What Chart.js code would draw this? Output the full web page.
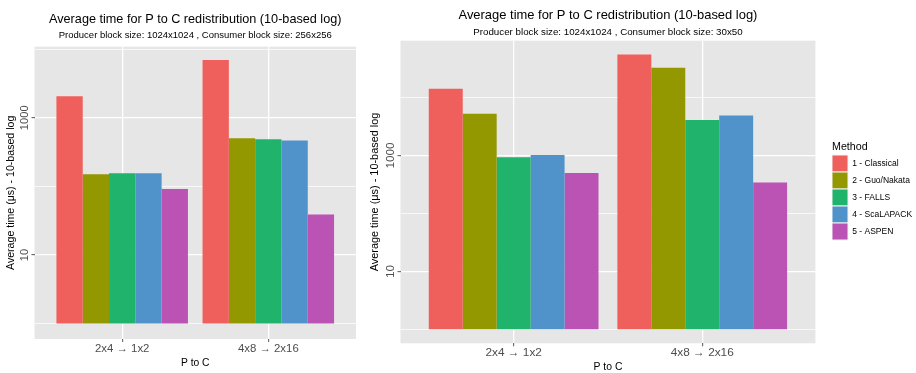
<!DOCTYPE html>
<html>
<head>
<meta charset="utf-8">
<script src="https://cdn.jsdelivr.net/npm/chart.js@4.4.1/dist/chart.umd.min.js"></script>
<style>
  html, body { margin: 0; padding: 0; background: #fff; }
  #wrap { position: relative; width: 916px; height: 373px; overflow: hidden; }
  canvas { position: absolute; top: 0; }
  #left { left: 0; }
  #right { left: 360px; }
</style>
</head>
<body>
<div id="wrap">
  <canvas id="left" width="360" height="373"></canvas>
  <canvas id="right" width="556" height="373"></canvas>
</div>
<script>
// P to C layouts on the x axis
const categories = ['2x4 \u2192 1x2', '4x8 \u2192 2x16'];
const methods = ['1 - Classical', '2 - Guo/Nakata', '3 - FALLS', '4 - ScaLAPACK', '5 - ASPEN'];
const methodColors = ['#EF5F5B', '#939700', '#1FB36B', '#5093CA', '#BB53B4'];

// Consumer block 256x256 (left panel), average time in µs per category
const classical256 = [2060, 6960];
const guoNakata256 = [151, 504];
const falls256 = [155, 488];
const scalapack256 = [155, 467];
const aspen256 = [92, 39];

// Consumer block 30x50 (right panel)
const classical30x50 = [14070, 55070];
const guoNakata30x50 = [5210, 32460];
const falls30x50 = [927, 4103];
const scalapack30x50 = [1020, 4867];
const aspen30x50 = [499, 343];

// log axis: grid at every decade, labels on two of them
const yGridValues = [1, 10, 100, 1000, 10000];
const yLabelValues = [10, 1000];

const chartTitle = 'Average time for P to C redistribution (10-based log)';
const yTitle = 'Average time (\u03bcs) - 10-based log';
const xTitle = 'P to C';

const fontFamily = "'Liberation Sans', Arial, Helvetica, sans-serif";
Chart.defaults.font.family = fontFamily;
Chart.defaults.color = '#000';

const legendFont = 8.5;
const legendBoxW = 16;

const panelBg = {
  id: 'panelBg',
  beforeDraw(chart) {
    const a = chart.chartArea;
    const ctx = chart.ctx;
    ctx.save();
    ctx.fillStyle = '#E6E6E6';
    ctx.fillRect(a.left, a.top, a.right - a.left, a.bottom - a.top);
    ctx.restore();
  }
};

function textWidth(text, size) {
  const c = document.createElement('canvas').getContext('2d');
  c.font = size + 'px ' + fontFamily;
  return c.measureText(text).width;
}

// ggplot style: 5% expansion of the log range, bars grow from 1
function logRange(values) {
  const top = Math.log10(Math.max.apply(null, values));
  const pad = top * 0.05;
  return { min: Math.pow(10, -pad), max: Math.pow(10, top + pad) };
}

function makePanel(canvasId, series, subtitle, look) {
  const all = [].concat.apply([], series);
  const range = logRange(all);
  const widest = textWidth('1000', look.yTickSize);
  const yTickPad = look.yAxisW - 3 - look.yLabelCenter - widest / 2;

  let padRight = look.padRight;
  if (look.legend) {
    // legend keeps its natural width: box + half font + longest label + 10
    const longest = Math.max.apply(null, methods.map(function(m) { return textWidth(m, legendFont); }));
    const legendW = legendBoxW + legendFont / 2 + longest + 10;
    padRight = look.canvasW - look.legendLeft - legendW;
  }

  const scales = {
    x: {
      type: 'linear',
      min: 0.4,
      max: categories.length + 0.6,
      offset: false,
      afterBuildTicks: function(ax) {
        ax.ticks = categories.map(function(c, i) { return { value: i + 1 }; });
      },
      afterFit: function(ax) { ax.height = look.xAxisH; },
      ticks: {
        callback: function(v) { return categories[v - 1]; },
        color: '#4D4D4D',
        font: { size: look.xTickSize },
        padding: look.xTickPad,
        maxRotation: 0,
        autoSkip: false
      },
      grid: { color: '#fff', lineWidth: 1.3, offset: false, tickLength: 3, tickColor: '#555', tickWidth: 1 },
      border: { display: false },
      title: { display: true, text: xTitle, color: '#000', font: { size: look.xTitleSize }, padding: { top: 0, bottom: look.xTitlePad } }
    },
    y: {
      type: 'logarithmic',
      min: range.min,
      max: range.max,
      afterBuildTicks: function(ax) {
        ax.ticks = yGridValues.filter(function(v) { return v >= ax.min && v <= ax.max; })
          .map(function(v) { return { value: v }; });
      },
      afterFit: function(ax) { ax.width = look.yAxisW; },
      ticks: {
        callback: function(v) { return yLabelValues.indexOf(v) >= 0 ? String(v) : ''; },
        minRotation: 90,
        maxRotation: 90,
        crossAlign: 'center',
        padding: yTickPad,
        color: '#4D4D4D',
        font: { size: look.yTickSize }
      },
      grid: {
        color: '#fff',
        lineWidth: function(c) { return c.tick && yLabelValues.indexOf(c.tick.value) >= 0 ? 1.3 : 0.7; },
        tickLength: 3,
        tickWidth: 1,
        tickColor: function(c) { return c.tick && yLabelValues.indexOf(c.tick.value) >= 0 ? '#555' : 'rgba(0,0,0,0)'; }
      },
      border: { display: false },
      title: { display: true, text: yTitle, color: '#000', font: { size: look.yTitleSize }, padding: { top: look.yTitlePad, bottom: 0 } }
    }
  };

  if (look.legend) {
    // empty axis, only keeps the gap between panel and legend
    scales.gap = {
      type: 'linear',
      position: 'right',
      display: true,
      ticks: { display: false },
      grid: { display: false, drawTicks: false },
      border: { display: false },
      afterFit: function(ax) { ax.width = look.gapW; }
    };
  }

  return new Chart(document.getElementById(canvasId), {
    type: 'bar',
    data: {
      datasets: series.map(function(vals, i) {
        return {
          label: methods[i],
          data: vals.map(function(v, j) { return { x: j + 1, y: v }; }),
          backgroundColor: methodColors[i],
          borderWidth: 0,
          base: 1,
          categoryPercentage: 0.9,
          barPercentage: 1.0,
          xAxisID: 'x',
          yAxisID: 'y'
        };
      })
    },
    options: {
      responsive: false,
      animation: false,
      events: [],
      layout: { padding: { left: 0, right: padRight, top: 0, bottom: 0 } },
      scales: scales,
      plugins: {
        tooltip: { enabled: false },
        title: {
          display: true, text: chartTitle, fullSize: false, color: '#000',
          font: { size: look.titleSize, weight: 'normal' }, padding: look.titlePad
        },
        subtitle: {
          display: true, text: subtitle, fullSize: false, color: '#000',
          font: { size: look.subSize }, padding: look.subPad
        },
        legend: {
          display: !!look.legend,
          position: 'right',
          align: 'center',
          title: {
            display: true, text: 'Method', position: 'start', color: '#000',
            font: { size: 10.7 }, padding: { top: 8.4, bottom: 0.8 }
          },
          labels: {
            boxWidth: legendBoxW,
            boxHeight: 17,
            padding: 0,
            color: '#000',
            font: { size: legendFont },
            generateLabels: function(chart) {
              return chart.data.datasets.map(function(d, i) {
                return { text: d.label, fillStyle: d.backgroundColor, strokeStyle: '#F2F2F2', lineWidth: 1, hidden: false, datasetIndex: i };
              });
            }
          }
        }
      }
    },
    plugins: [panelBg]
  });
}

makePanel('left',
  [classical256, guoNakata256, falls256, scalapack256, aspen256],
  'Producer block size: 1024x1024 , Consumer block size: 256x256',
  {
    titleSize: 12.66, titlePad: { top: 12.4, bottom: 0 },
    subSize: 9.5, subPad: { top: 1.7, bottom: 6 },
    yAxisW: 34.5, yLabelCenter: 25.3, yTickSize: 11.2, yTitleSize: 10.6, yTitlePad: 4.6,
    xAxisH: 34, xTickSize: 11.4, xTickPad: 0.5, xTitleSize: 10.3, xTitlePad: 4.1,
    padRight: 4, legend: false
  });

makePanel('right',
  [classical30x50, guoNakata30x50, falls30x50, scalapack30x50, aspen30x50],
  'Producer block size: 1024x1024 , Consumer block size: 30x50',
  {
    titleSize: 12.95, titlePad: { top: 7.2, bottom: 0 },
    subSize: 9.75, subPad: { top: 3.7, bottom: 2.55 },
    yAxisW: 40.5, yLabelCenter: 30.5, yTickSize: 11.8, yTitleSize: 10.9, yTitlePad: 8.5,
    xAxisH: 29.7, xTickSize: 11.8, xTickPad: -0.7, xTitleSize: 10.4, xTitlePad: 0,
    canvasW: 556, legendLeft: 472, legend: true, gapW: 16.6
  });
</script>
</body>
</html>
